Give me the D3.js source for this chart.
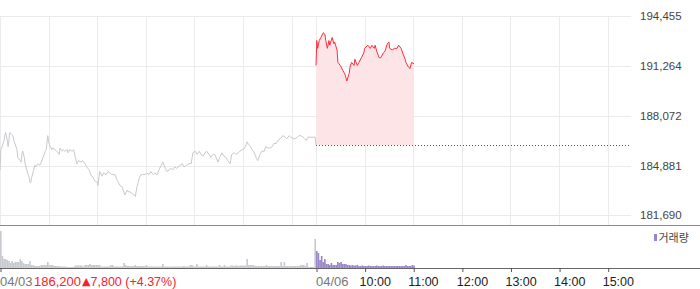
<!DOCTYPE html>
<html><head><meta charset="utf-8">
<script src="https://cdn.jsdelivr.net/npm/d3@7"></script>
<style>
html,body{margin:0;padding:0;background:#fff;}
svg{display:block;font-family:"Liberation Sans",Arial,sans-serif;}
</style>
</head><body>
<svg id="chart" width="700" height="289"></svg>
<script>
// ---- data ----
const prevClose = 186200;
const yTickValues = [181690, 184881, 188072, 191264, 194455];
const hourTickMinutes = [390, 450, 510, 570, 630, 690, 750];
const hourTickLabels = ["04/06", "10:00", "11:00", "12:00", "13:00", "14:00", "15:00"];
const gridMinutes = [0, 60, 120, 180, 240, 300, 360, 390, 450, 510, 570, 630, 690, 750];
const day1Label = "04/03", day1Close = "186,200", day1Change = "7,800 (+4.37%)";

const day1Minutes = [0,1,2,5,6,7,9,10,11,12,14,16,17,19,21,22,25,26,27,28,30,31,33,36,37,38,39,41,43,44,47,49,51,53,56,57,59,60,62,64,65,68,70,73,74,77,78,80,83,84,86,89,91,93,95,97,100,102,105,107,110,112,115,117,120,121,123,126,128,131,133,136,138,142,144,146,148,151,152,154,157,158,160,163,167,169,172,174,176,179,181,184,186,189,191,194,197,201,204,206,209,211,213,216,218,222,225,227,230,233,236,238,241,243,246,248,251,253,255,258,260,263,265,269,271,274,276,279,281,284,286,289,291,294,296,299,302,305,306,309,311,313,316,318,321,323,326,328,331,333,336,338,341,343,346,349,352,354,357,359,362,364,367,369,371,374,376,378,380,384,386,389,390];
const day1Prices = [184600,185900,186000,186500,186800,187000,186500,186100,186500,187000,186900,186800,186500,186200,185900,185400,185200,185100,185600,185800,185400,185000,184600,184100,183800,183800,184100,184500,184900,184800,185000,184900,185100,185400,185800,185900,186800,186400,186100,185900,186000,185900,185800,185600,186000,185800,185900,185800,185900,185700,185900,185800,185900,185400,185000,185200,185100,185200,185000,184800,184600,184300,184100,183900,183800,183600,184500,184200,184400,184300,184500,184400,184300,184300,184000,183800,183600,183500,183300,183000,183300,183200,183200,183100,182900,183500,184100,184300,184300,184300,184400,184300,184500,184300,184400,184300,184700,185100,184700,184500,184600,184700,184600,184800,184700,184900,185000,184800,184900,185000,185000,185700,185800,185600,185800,185600,185500,185700,185800,185600,185400,185600,185600,185100,185400,185700,185500,185400,185200,185000,185600,185700,185600,185700,185800,185900,186000,186400,186300,186100,185900,185800,185400,185200,185600,185800,185800,186100,186000,186000,186100,186300,186300,186500,186600,186800,186700,186600,186800,186700,186600,186600,186700,186800,186800,186700,186600,186500,186700,186700,186700,186700,186200];

const day2Minutes = [0,1,2,4,6,9,11,12,14,16,17,20,22,23,26,27,30,33,36,38,41,42,44,47,48,51,53,56,59,60,64,67,69,72,73,75,78,80,83,85,88,90,91,94,97,100,102,105,107,110,111,114,116,118,121];
const day2Prices = [191300,192900,192400,192900,193100,193400,193300,192900,192400,192900,192600,193100,192700,192800,192300,191500,191300,191000,190700,190300,190800,191200,191500,191300,191700,191300,191500,191800,192100,192400,192600,192400,192600,192400,192600,192200,191800,191800,192100,192200,192700,192800,192400,192300,192400,192400,192600,192400,192100,191700,191500,191200,191100,191500,191400];

// volume in 2-minute bins
const day1Volume = [37,12,9,9,8,7,5,7,5,6,6,6,9,7,5,4,4,4,7,3,3,2,2,2,2,3,3,3,3,6,3,3,3,2,2,2,2,1.5,1.5,1.5,1.5,1,1,1,1,1,2.5,2.5,2.5,2.5,2.5,1.5,3,3,3,4,3,3,3,3,3,3,1.5,1.5,1.5,1.5,1.5,1.5,3,3,1.5,1.5,1.5,1.5,1.5,1.5,5,3,2,2,2,2,2,3,2,2,2,2,2,2,3,1.5,1.5,1.5,1.5,1.5,1.5,1.5,1.5,1.5,4,1.5,1.5,1.5,1.5,1.5,1.5,1.5,1.5,1.5,1.5,1.5,1.5,2,1.5,1.5,1.5,3,3,1.5,1.5,4,1.5,1.5,1.5,1.5,1.5,3,1.5,1.5,1.5,1.5,1.5,1.5,1.5,3,1.5,1.5,3,1.5,1.5,1.5,2.5,2.5,2,2.5,2.5,2,2.5,2.5,2.5,2.5,9,3,3,3,3,2,2,2,2,2,2,2,3,2,2,2,2,2,2,2,2,6,2,6,2,2,2,2,2,2,2,2,2,3,3,3,2,5,1,1,1,1,29];
const day2Volume = [17,15,8,12,6,9,4,4,3,5,3,3,3,6,5,6,4,4,4,3,3,2.5,3,2.5,2.5,3,2,2,2.5,2,2,2,2.5,2,2,2,2,2.5,2,2,2,2.5,2,2,2,2,2,2,2,2,2,2,2,2,2,3,2,2,2,3,2.5];
const volBinMinutes = 2;
const sessionMinutes = 390;

// ---- scales ----
const svg = d3.select("#chart");
const x = d3.scaleLinear().domain([0, 2 * sessionMinutes]).range([0, 632]);
const y = d3.scaleLinear().domain([181690, 194455]).range([215.3, 16.3]);
const v = d3.scaleLinear().domain([0, 40]).range([268, 228]);
const px = p => Math.round(p) + 0.5;

// ---- grid ----
const grid = svg.append("g");
grid.selectAll("line.h").data(yTickValues).join("line")
  .attr("x1", 0).attr("x2", 631)
  .attr("y1", d => px(y(d))).attr("y2", d => px(y(d)))
  .attr("stroke", "#ebebeb");
grid.selectAll("line.v").data(gridMinutes).join("line")
  .attr("x1", d => px(x(d))).attr("x2", d => px(x(d)))
  .attr("y1", 16).attr("y2", 225)
  .attr("stroke", "#ebebeb");

// ---- y labels ----
svg.append("g").attr("transform", "translate(632,0)")
  .call(d3.axisRight(y).tickValues(yTickValues).tickSize(0).tickPadding(8)
        .tickFormat(d3.format(",")))
  .call(g => g.select(".domain").remove())
  .call(g => g.selectAll("text").attr("font-size", 11.5).attr("fill", "#444")
        .attr("font-family", "'Liberation Sans',Arial,sans-serif"));

// ---- day 2 area + previous close line ----
const d2 = day2Minutes.map((m, i) => ({t: sessionMinutes + m, p: day2Prices[i]}));
const d1 = day1Minutes.map((m, i) => ({t: m, p: day1Prices[i]}));

svg.append("path").datum(d2)
  .attr("d", d3.area().x(d => x(d.t)).y0(y(prevClose)).y1(d => y(d.p)))
  .attr("fill", "#fde4e7");

svg.append("line")
  .attr("x1", x(sessionMinutes)).attr("x2", 631)
  .attr("y1", px(y(prevClose))).attr("y2", px(y(prevClose)))
  .attr("stroke", "#555").attr("stroke-dasharray", "1,2");

svg.append("path").datum(d1)
  .attr("d", d3.line().x(d => x(d.t)).y(d => y(d.p)))
  .attr("fill", "none").attr("stroke", "#c6c9ce").attr("stroke-width", 1);

svg.append("path").datum(d2)
  .attr("d", d3.line().x(d => x(d.t)).y(d => y(d.p)))
  .attr("fill", "none").attr("stroke", "#ff2d3c").attr("stroke-width", 1);

// ---- volume ----
svg.append("line").attr("x1", 0).attr("x2", 700).attr("y1", 225.5).attr("y2", 225.5)
  .attr("stroke", "#8a8a8a");
const bw = x(volBinMinutes) - x(0);
svg.append("g").selectAll("rect").data(day1Volume).join("rect")
  .attr("x", (d, i) => x(i * volBinMinutes)).attr("width", bw)
  .attr("y", d => v(d)).attr("height", d => v(0) - v(d))
  .attr("fill", "#c6c9ce");
svg.append("g").selectAll("rect").data(day2Volume).join("rect")
  .attr("x", (d, i) => x(sessionMinutes + i * volBinMinutes)).attr("width", bw)
  .attr("y", d => v(d)).attr("height", d => v(0) - v(d))
  .attr("fill", "#9a85c8");

svg.append("line").attr("x1", 0).attr("x2", 700).attr("y1", 268.5).attr("y2", 268.5)
  .attr("stroke", "#666");

// ---- x axis ticks ----
const tickG = svg.append("g").attr("transform", "translate(0,268)")
  .call(d3.axisBottom(x).tickValues([0].concat(hourTickMinutes)).tickSize(4).tickFormat(""));
tickG.select(".domain").remove();
tickG.selectAll(".tick line").attr("stroke", "#555")
  .attr("transform", "translate(0.5,0)");

// labels
svg.append("g").selectAll("text").data(hourTickMinutes).join("text")
  .attr("x", d => x(d) - (d === sessionMinutes ? 0 : 5)).attr("y", 286)
  .attr("font-size", d => d === sessionMinutes ? 13 : 12.5)
  .attr("fill", d => d === sessionMinutes ? "#777" : "#222")
  .text((d, i) => hourTickLabels[i]);

const lab = svg.append("text").attr("x", x(0)).attr("y", 286).attr("font-size", 13);
lab.append("tspan").attr("fill", "#777").text(day1Label);
lab.append("tspan").attr("dx", 1.5).attr("fill", "#f5222d").text(day1Close);
lab.append("tspan").attr("dx", 1).attr("dy", -1).attr("fill", "#f5222d").attr("font-size", 11)
  .attr("font-family", "'DejaVu Sans',sans-serif").text("▲");
lab.append("tspan").attr("dx", 0).attr("dy", 1).attr("fill", "#f5222d").attr("font-size", 12.5).text(day1Change);

// legend
svg.append("rect").attr("x", 654).attr("y", 234).attr("width", 3).attr("height", 7).attr("fill", "#9a85c8");
svg.append("text").attr("x", 658.5).attr("y", 241.5).attr("font-size", 11)
  .attr("font-family", "'Noto Sans CJK KR',sans-serif").attr("fill", "#444").text("거래량");
</script>
</body></html>
